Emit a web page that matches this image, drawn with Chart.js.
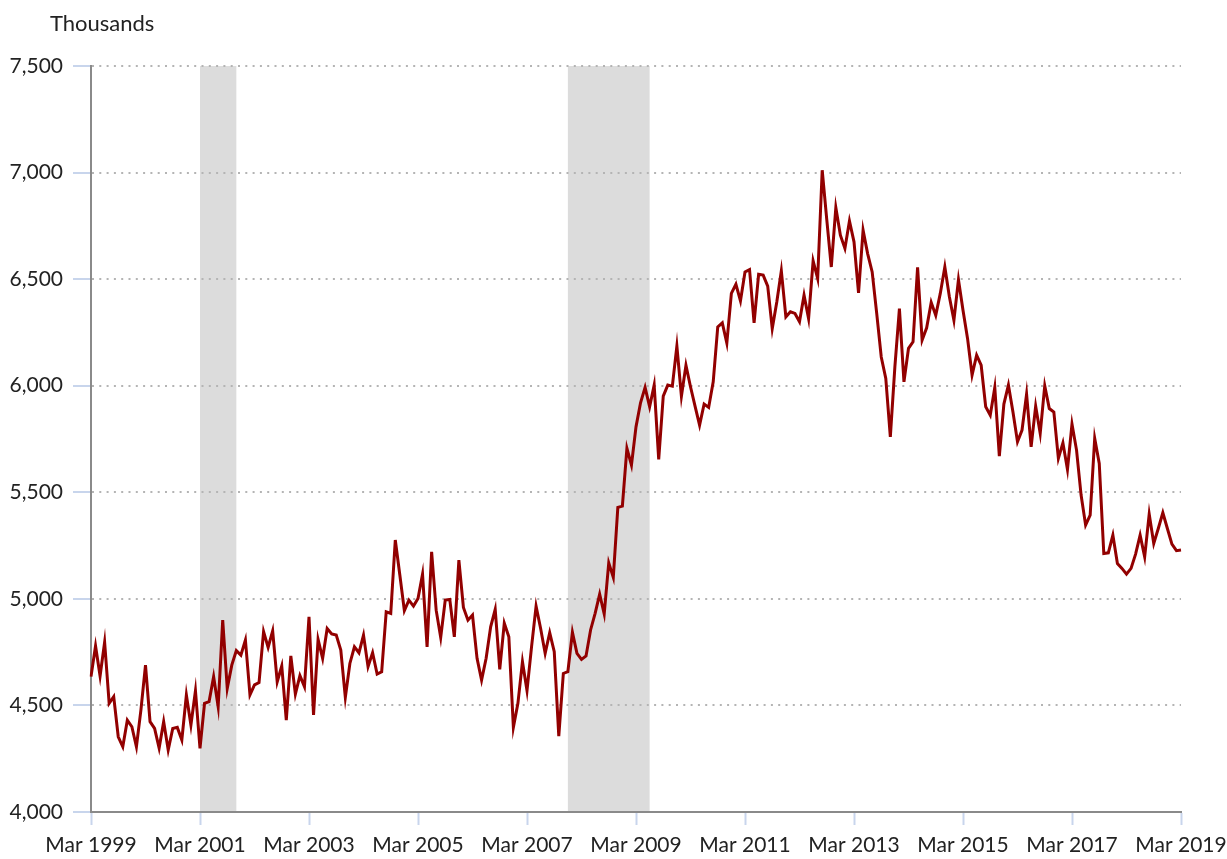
<!DOCTYPE html>
<html>
<head>
<meta charset="utf-8">
<script src="https://cdn.jsdelivr.net/npm/chart.js@4.4.1/dist/chart.umd.min.js"></script>
<style>
  body { margin: 0; background: #fff; }
  canvas { display: block; }
</style>
</head>
<body>
<canvas id="myChart" width="1227" height="859"></canvas>
<script>
// monthly, Mar 1999 .. Mar 2019 (thousands)
const startYear = 1999
const startMonth = 2 // Mar
const monthNames = ['Jan', 'Feb', 'Mar', 'Apr', 'May', 'Jun', 'Jul', 'Aug', 'Sep', 'Oct', 'Nov', 'Dec']

const values = [
  4635, 4779, 4638, 4797, 4510, 4541, 4353, 4306, 4431, 4400, 4306, 4480,
  4689, 4424, 4392, 4300, 4424, 4291, 4392, 4397, 4338, 4549, 4408, 4569,
  4299, 4510, 4518, 4635, 4494, 4900, 4580, 4689, 4757, 4736, 4807, 4549,
  4596, 4607, 4846, 4772, 4850, 4611, 4685, 4431, 4732, 4553, 4640, 4588,
  4916, 4455, 4810, 4721, 4861, 4835, 4830, 4760, 4538, 4697, 4775, 4747,
  4830, 4682, 4747, 4647, 4658, 4939, 4932, 5276, 5112, 4945, 4994, 4966,
  5002, 5116, 4775, 5221, 4947, 4819, 4994, 4997, 4822, 5182, 4960, 4900,
  4924, 4721, 4619, 4721, 4869, 4951, 4669, 4886, 4822, 4397, 4510, 4705,
  4569, 4775, 4966, 4861, 4744, 4841, 4752, 4356, 4650, 4658, 4843, 4744,
  4716, 4732, 4854, 4932, 5022, 4929, 5169, 5101, 5429, 5435, 5706, 5627,
  5807, 5920, 5992, 5901, 6003, 5654, 5951, 6003, 5998, 6186, 5951, 6096,
  5995, 5904, 5815, 5914, 5898, 6018, 6276, 6295, 6200, 6433, 6476, 6398,
  6534, 6545, 6295, 6523, 6519, 6467, 6268, 6393, 6539, 6323, 6347, 6339,
  6300, 6425, 6315, 6586, 6503, 7011, 6780, 6557, 6836, 6706, 6644, 6773,
  6675, 6436, 6730, 6620, 6534, 6339, 6135, 6034, 5760, 6088, 6362, 6018,
  6175, 6206, 6555, 6214, 6272, 6391, 6330, 6433, 6557, 6417, 6307, 6498,
  6354, 6222, 6050, 6143, 6096, 5901, 5862, 5992, 5670, 5914, 6003, 5877,
  5737, 5792, 5960, 5713, 5904, 5776, 6000, 5893, 5877, 5659, 5732, 5607,
  5820, 5698, 5487, 5346, 5393, 5753, 5635, 5213, 5216, 5299, 5166, 5143,
  5116, 5143, 5210, 5299, 5197, 5398, 5260, 5330, 5404, 5330, 5257, 5226,
  5229
]

// recession bands (shaded)
const recessions = [
  ['Mar 2001', 'Nov 2001'],
  ['Dec 2007', 'Jun 2009']
]

const months = []
for (let i = 0; i < values.length; i++) {
  const m = startMonth + i
  months.push(monthNames[m % 12] + ' ' + (startYear + Math.floor(m / 12)))
}

const fontFamily = 'Lato, "Open Sans", sans-serif'

const recessionShading = {
  id: 'recessionShading',
  beforeDraw(chart) {
    const { ctx, chartArea, scales } = chart
    ctx.save()
    ctx.fillStyle = '#dcdcdc'
    recessions.forEach(([from, to]) => {
      const x1 = scales.x.getPixelForValue(months.indexOf(from))
      const x2 = scales.x.getPixelForValue(months.indexOf(to))
      ctx.fillRect(x1, chartArea.top, x2 - x1, chartArea.bottom - chartArea.top)
    })
    ctx.restore()
  },
  afterDraw(chart) {
    const ctx = chart.ctx
    ctx.save()
    ctx.fillStyle = '#222'
    ctx.font = '22px ' + fontFamily
    ctx.textAlign = 'left'
    ctx.textBaseline = 'middle'
    ctx.fillText('Thousands', 50, 24)
    ctx.restore()
  }
}

new Chart(document.getElementById('myChart'), {
  type: 'line',
  data: {
    labels: months,
    datasets: [{
      data: values,
      borderColor: '#920000',
      borderWidth: 3,
      tension: 0,
      pointRadius: 0,
      fill: false
    }]
  },
  options: {
    responsive: false,
    animation: false,
    devicePixelRatio: 1,
    layout: { padding: { left: 0, top: 66, right: 46, bottom: 0 } },
    plugins: {
      legend: { display: false },
      tooltip: { enabled: false }
    },
    scales: {
      x: {
        afterFit: (scale) => {
          scale.height = 47
          scale.paddingLeft = 0
          scale.paddingRight = 0
        },
        border: { display: true, color: '#8a8a8a', width: 2 },
        grid: {
          drawOnChartArea: false,
          drawTicks: true,
          tickLength: 13,
          tickColor: '#c8d5ec',
          tickWidth: 2
        },
        ticks: {
          autoSkip: false,
          maxRotation: 0,
          padding: 8,
          color: '#222',
          font: { family: fontFamily, size: 21 },
          callback: (v, index) => (index % 24 === 0 ? months[index] : null)
        }
      },
      y: {
        min: 4000,
        max: 7500,
        afterFit: (scale) => { scale.width = 91 },
        border: { display: true, color: '#8a8a8a', width: 2, dash: [2, 5.3] },
        grid: {
          color: '#b4b4b4',
          lineWidth: 2,
          tickLength: 18,
          tickColor: '#c8d5ec',
          tickWidth: 2
        },
        ticks: {
          stepSize: 500,
          padding: 10,
          color: '#222',
          font: { family: fontFamily, size: 21 },
          callback: (v) => v.toLocaleString('en-US')
        }
      }
    }
  },
  plugins: [recessionShading]
})
</script>
</body>
</html>
